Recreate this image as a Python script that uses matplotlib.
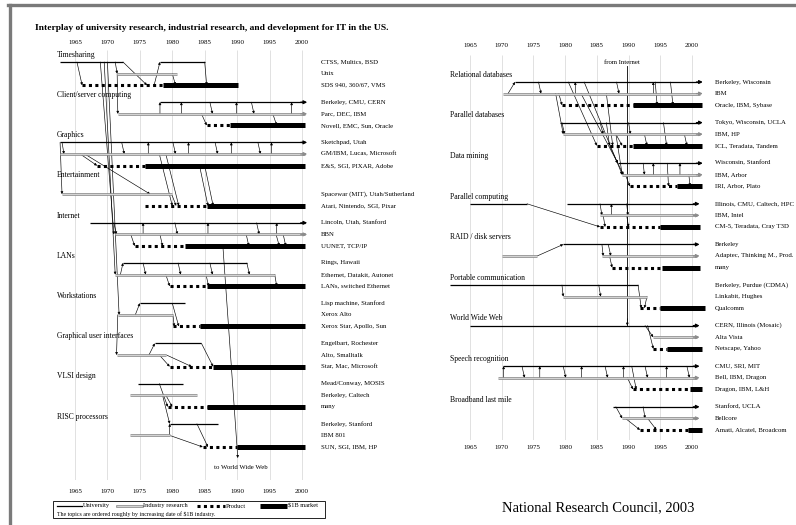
import matplotlib
matplotlib.use("Agg")
import matplotlib.pyplot as plt
from matplotlib.lines import Line2D
from matplotlib.patches import Rectangle

plt.rcParams['font.family'] = ['Liberation Serif', 'DejaVu Serif']

W, H = 796, 525
YEARS = [1965, 1970, 1975, 1980, 1985, 1990, 1995, 2000]

TITLE = "Interplay of university research, industrial research, and development for IT in the US."

# ---------------- left panel data ----------------
LEFT_TOPICS = ["Timesharing", "Client/server computing", "Graphics", "Entertainment",
               "Internet", "LANs", "Workstations", "Graphical user interfaces",
               "VLSI design", "RISC processors"]
LEFT_LABELS = [
    ["CTSS, Multics, BSD", "Unix", "SDS 940, 360/67, VMS"],
    ["Berkeley, CMU, CERN", "Parc, DEC, IBM", "Novell, EMC, Sun, Oracle"],
    ["Sketchpad, Utah", "GM/IBM, Lucas, Microsoft", "E&S, SGI, PIXAR, Adobe"],
    ["", "Spacewar (MIT), Utah/Sutherland", "Atari, Nintendo, SGI, Pixar"],
    ["Lincoln, Utah, Stanford", "BBN", "UUNET, TCP/IP"],
    ["Rings, Hawaii", "Ethernet, Datakit, Autonet", "LANs, switched Ethernet"],
    ["Lisp machine, Stanford", "Xerox Alto", "Xerox Star, Apollo, Sun"],
    ["Engelbart, Rochester", "Alto, Smalltalk", "Star, Mac, Microsoft"],
    ["Mead/Conway, MOSIS", "Berkeley, Caltech", "many"],
    ["Berkeley, Stanford", "IBM 801", "SUN, SGI, IBM, HP"],
]
# university research spans (row 0)
LEFT_UNIV = [
    [(1962.7, 1972.4), (1978.1, 1985.0)],
    [(1978.1, 2000.4)],
    [(1962.7, 2000.4)],
    [],
    [(1967.3, 2000.4)],
    [(1972.4, 1991.5)],
    [(1975.0, 1982.0)],
    [(1977.3, 1984.5)],
    [(1974.7, 1981.6)],
    [(1979.6, 1987.0)],
]
# industry research spans (row 1)
LEFT_IND = [
    [(1971.5, 1980.7)],
    [(1971.6, 2000.4)],
    [(1962.7, 2000.4)],
    [(1963.0, 1979.9)],
    [(1971.2, 2000.4)],
    [(1971.2, 1995.8)],
    [(1971.6, 1980.1)],
    [(1971.4, 1979.1)],
    [(1973.5, 1983.8)],
    [(1973.5, 1979.6)],
]
# product start, $1B market start, end (row 2)
LEFT_PROD = [
    (1966.1, 1978.6, 1990.1),
    (1985.3, 1988.9, 2000.4),
    (1968.4, 1975.8, 2000.4),
    (1975.8, 1985.3, 2000.4),
    (1974.2, 1982.0, 2000.4),
    (1979.6, 1985.3, 2000.4),
    (1980.1, 1984.3, 2000.4),
    (1979.6, 1986.3, 2000.4),
    (1979.3, 1985.3, 2000.4),
    (1984.7, 1990.0, 2000.4),
]
# flows: (topic, row, year) -> (topic, row, year)
LEFT_LINKS = [
    (0, 0, 1965.3, 0, 2, 1966.1), (0, 0, 1971.2, 0, 1, 1971.5),
    (0, 0, 1972.4, 0, 2, 1976.1), (0, 2, 1977.2, 0, 0, 1978.1),
    (0, 1, 1980.0, 0, 2, 1980.5), (0, 0, 1985.0, 0, 2, 1985.3),
    (0, 0, 1968.9, 4, 1, 1971.0), (0, 0, 1970.0, 6, 1, 1971.8),
    (0, 1, 1971.5, 1, 1, 1971.6), (0, 0, 1969.5, 5, 1, 1971.2),
    (1, 1, 1978.1, 1, 0, 1978.1), (1, 1, 1981.4, 1, 0, 1981.4),
    (1, 1, 1989.9, 1, 0, 1989.9), (1, 1, 1998.4, 1, 0, 1998.4),
    (1, 0, 1985.8, 1, 1, 1986.2), (1, 0, 1992.2, 1, 1, 1992.6),
    (1, 1, 1984.5, 1, 2, 1985.3), (1, 1, 1995.5, 1, 2, 1996.1),
    (2, 0, 1963.0, 2, 1, 1963.3), (2, 0, 1972.2, 2, 1, 1972.6),
    (2, 0, 1980.1, 2, 1, 1980.5), (2, 0, 1986.6, 2, 1, 1987.0),
    (2, 0, 1993.2, 2, 1, 1993.6), (2, 1, 1976.3, 2, 0, 1976.3),
    (2, 1, 1982.5, 2, 0, 1982.5), (2, 1, 1989.1, 2, 0, 1989.1),
    (2, 1, 1995.3, 2, 0, 1995.3), (2, 1, 1965.8, 2, 2, 1968.4),
    (2, 0, 1962.7, 3, 1, 1963.0), (2, 1, 1966.5, 3, 1, 1976.6),
    (2, 1, 1978.0, 3, 2, 1980.0), (2, 1, 1979.0, 3, 2, 1981.0),
    (2, 2, 1984.2, 3, 2, 1985.5), (2, 2, 1985.0, 3, 2, 1986.3),
    (3, 1, 1979.9, 3, 2, 1980.6),
    (4, 0, 1971.0, 4, 1, 1971.4), (4, 0, 1980.4, 4, 1, 1980.8),
    (4, 0, 1993.0, 4, 1, 1993.4), (4, 1, 1975.5, 4, 0, 1975.5),
    (4, 1, 1985.5, 4, 0, 1985.5), (4, 1, 1996.1, 4, 0, 1996.1),
    (4, 1, 1973.6, 4, 2, 1974.2), (4, 1, 1978.1, 4, 2, 1978.5),
    (4, 1, 1991.4, 4, 2, 1991.8), (4, 1, 1996.0, 4, 2, 1996.5),
    (4, 1, 1997.1, 4, 2, 1997.5),
    (5, 0, 1975.5, 5, 1, 1975.9), (5, 0, 1980.9, 5, 1, 1981.3),
    (5, 0, 1985.8, 5, 1, 1986.2), (5, 0, 1991.5, 5, 1, 1991.9),
    (5, 1, 1972.0, 5, 0, 1972.4), (5, 1, 1979.0, 5, 2, 1979.6),
    (5, 1, 1985.2, 5, 2, 1985.6), (5, 1, 1995.8, 5, 2, 1996.1),
    (6, 1, 1974.3, 6, 0, 1975.0), (6, 0, 1980.0, 6, 2, 1981.0),
    (6, 1, 1980.1, 6, 2, 1980.3), (6, 1, 1971.6, 7, 1, 1971.4),
    (7, 1, 1976.4, 7, 0, 1977.3), (7, 0, 1984.5, 7, 2, 1986.3),
    (7, 1, 1979.1, 7, 2, 1983.0), (7, 1, 1978.0, 7, 2, 1979.6),
    (8, 0, 1978.0, 8, 2, 1979.3), (8, 1, 1979.0, 8, 2, 1980.0),
    (8, 1, 1978.5, 9, 0, 1979.6),
    (9, 1, 1979.6, 9, 0, 1979.6), (9, 1, 1979.6, 9, 2, 1984.7),
    (9, 0, 1983.8, 9, 2, 1985.5),
]
LEFT_TO_WWW = (4, 2, 1987.8, 1990.1)   # topic, row, start year, end year

# ---------------- right panel data ----------------
RIGHT_TOPICS = ["Relational databases", "Parallel databases", "Data mining",
                "Parallel computing", "RAID / disk servers", "Portable communication",
                "World Wide Web", "Speech recognition", "Broadband last mile"]
RIGHT_LABELS = [
    ["Berkeley, Wisconsin", "IBM", "Oracle, IBM, Sybase"],
    ["Tokyo, Wisconsin, UCLA", "IBM, HP", "ICL, Teradata, Tandem"],
    ["Wisconsin, Stanford", "IBM, Arbor", "IRI, Arbor, Plato"],
    ["Illinois, CMU, Caltech, HPC", "IBM, Intel", "CM-5, Teradata, Cray T3D"],
    ["Berkeley", "Adaptec, Thinking M., Prod.", "many"],
    ["Berkeley, Purdue (CDMA)", "Linkabit, Hughes", "Qualcomm"],
    ["CERN, Illinois (Mosaic)", "Alta Vista", "Netscape, Yahoo"],
    ["CMU, SRI, MIT", "Bell, IBM, Dragon", "Dragon, IBM, L&H"],
    ["Stanford, UCLA", "Bellcore", "Amati, Alcatel, Broadcom"],
]
RIGHT_UNIV = [
    [(1972.1, 2001.3)],
    [(1979.2, 2001.3)],
    [(1988.3, 2001.3)],
    [(1965.0, 1974.0), (1980.3, 2000.8)],
    [(1979.7, 2000.8)],
    [(1961.8, 1991.5)],
    [(1965.0, 2000.8)],
    [(1970.2, 2000.8)],
    [(1987.6, 2000.8)],
]
RIGHT_IND = [
    [(1970.2, 2001.3)],
    [(1979.7, 2001.3)],
    [(1989.0, 2001.3)],
    [(1985.5, 2000.8)],
    [(1970.0, 1975.6), (1985.8, 2000.8)],
    [(1979.7, 1992.9)],
    [(1993.9, 2000.8)],
    [(1969.4, 2000.8)],
    [(1989.0, 2000.8)],
]
RIGHT_PROD = [
    (1979.5, 1990.7, 2001.6),
    (1985.0, 1990.7, 2001.6),
    (1990.2, 1997.6, 2001.6),
    (1985.5, 1995.0, 2001.3),
    (1987.4, 1995.3, 2001.3),
    (1991.8, 1995.0, 2002.0),
    (1993.9, 1996.0, 2001.6),
    (1990.7, 1999.7, 2001.6),
    (1991.8, 1999.4, 2001.6),
]
RIGHT_LINKS = [
    (0, 1, 1971.0, 0, 0, 1972.1), (0, 0, 1975.8, 0, 1, 1976.2),
    (0, 0, 1988.1, 0, 1, 1988.5), (0, 1, 1981.6, 0, 0, 1981.6),
    (0, 1, 1993.9, 0, 0, 1993.9), (0, 1, 1979.0, 0, 2, 1979.5),
    (0, 0, 1994.2, 0, 2, 1994.5), (0, 0, 1996.6, 0, 2, 1997.0),
    (0, 1, 1978.5, 1, 1, 1979.7), (0, 0, 1980.5, 1, 2, 1985.0),
    (0, 1, 1982.5, 2, 0, 1988.3), (0, 0, 1983.0, 2, 1, 1989.0),
    (0, 1, 1986.5, 1, 2, 1987.5),
    (1, 0, 1979.5, 1, 1, 1979.9), (1, 0, 1985.5, 1, 1, 1986.0),
    (1, 0, 1986.5, 1, 2, 1987.0), (1, 1, 1988.0, 1, 2, 1989.0),
    (1, 0, 1990.0, 1, 1, 1990.3), (1, 1, 1992.5, 1, 2, 1992.9),
    (1, 0, 1995.5, 1, 2, 1996.0), (1, 1, 1998.8, 1, 2, 1999.2),
    (1, 2, 1987.0, 2, 0, 1988.3), (1, 1, 1988.0, 2, 1, 1989.0),
    (2, 0, 1988.3, 2, 1, 1989.2), (2, 1, 1989.5, 2, 2, 1990.2),
    (2, 0, 1992.3, 2, 1, 1992.5), (2, 1, 1993.9, 2, 0, 1993.9),
    (2, 0, 1996.1, 2, 2, 1996.3), (2, 1, 1998.1, 2, 0, 1998.1),
    (2, 1, 1999.5, 2, 2, 1999.7),
    (3, 0, 1974.0, 3, 2, 1985.5), (3, 0, 1985.5, 3, 1, 1985.8),
    (3, 1, 1987.3, 3, 0, 1987.3), (3, 0, 1989.7, 3, 1, 1989.9),
    (3, 1, 1986.0, 3, 2, 1986.3), (3, 1, 1989.7, 3, 2, 1990.0),
    (4, 1, 1975.6, 4, 0, 1979.7), (4, 0, 1985.8, 4, 1, 1986.0),
    (4, 0, 1986.8, 4, 1, 1987.2), (4, 1, 1987.0, 4, 2, 1987.4),
    (5, 0, 1979.5, 5, 1, 1979.7), (5, 0, 1985.3, 5, 1, 1985.6),
    (5, 0, 1991.5, 5, 2, 1992.0), (5, 1, 1992.9, 5, 2, 1992.5),
    (6, 0, 1992.6, 6, 1, 1993.9), (6, 0, 1993.0, 6, 2, 1993.9),
    (7, 1, 1970.3, 7, 0, 1970.3), (7, 1, 1976.0, 7, 0, 1976.0),
    (7, 1, 1982.6, 7, 0, 1982.6), (7, 1, 1989.2, 7, 0, 1989.2),
    (7, 1, 1996.0, 7, 0, 1996.0), (7, 0, 1973.2, 7, 1, 1973.6),
    (7, 0, 1979.7, 7, 1, 1980.1), (7, 0, 1986.3, 7, 1, 1986.7),
    (7, 0, 1992.6, 7, 1, 1993.0), (7, 0, 1999.2, 7, 1, 1999.6),
    (7, 1, 1989.8, 7, 2, 1990.7), (7, 0, 1990.5, 7, 2, 1991.2),
    (8, 0, 1988.0, 8, 1, 1989.0), (8, 1, 1989.5, 8, 2, 1991.8),
    (8, 0, 1992.3, 8, 1, 1992.6), (8, 1, 1993.0, 8, 2, 1994.4),
]
RIGHT_FROM_INTERNET = (1989.8, 6)   # year, target topic (row 0)


def fx(px):
    return px / W


def fy(py):
    return 1 - py / H


def make_axes(fig, px1965, px2000, xlim, top_px, bot_px, base_px, row_px):
    ppy = (px2000 - px1965) / 35.0
    left = px1965 + (xlim[0] - 1965) * ppy
    right = px1965 + (xlim[1] - 1965) * ppy
    ax = fig.add_axes([fx(left), fy(bot_px), (right - left) / W, (bot_px - top_px) / H])
    ax.set_xlim(*xlim)
    ax.set_ylim((bot_px - base_px) / row_px, (top_px - base_px) / row_px)
    ax.axis('off')
    return ax


def seg_univ(ax, s, e, y):
    ax.plot([s, e], [y, y], color='black', lw=0.9, solid_capstyle='butt', zorder=4)
    if e >= 2000:
        ax.annotate('', xy=(e + 0.4, y), xytext=(e - 0.6, y),
                    arrowprops=dict(arrowstyle='-|>', color='black', lw=0.9,
                                    mutation_scale=5, shrinkA=0, shrinkB=0), zorder=5)


def seg_ind(ax, s, e, y):
    ax.plot([s, e], [y, y], color='#8c8c8c', lw=1.9, solid_capstyle='butt', zorder=4)
    ax.plot([s, e], [y, y], color='white', lw=0.45, solid_capstyle='butt', zorder=4)
    if e >= 2000:
        ax.annotate('', xy=(e + 0.4, y), xytext=(e - 0.6, y),
                    arrowprops=dict(arrowstyle='-|>', color='#8c8c8c', lw=0.9,
                                    mutation_scale=5, shrinkA=0, shrinkB=0), zorder=5)


def seg_prod(ax, p, m, e, y):
    ax.plot([p, m], [y, y], color='black', lw=2.2, linestyle=(0, (1, 1.1)),
            dash_capstyle='butt', zorder=4)
    ax.plot([m, e], [y, y], color='black', lw=3.6, solid_capstyle='butt', zorder=4)


def link(ax, x1, y1, x2, y2):
    ax.annotate('', xy=(x2, y2), xytext=(x1, y1),
                arrowprops=dict(arrowstyle='-|>', color='black', lw=0.45,
                                mutation_scale=3.5, shrinkA=0, shrinkB=0), zorder=3)


def draw_panel(ax, topics, labels, univ, ind, prod, links, gap, head_x, lab_x,
               tick_top, tick_bot):
    y0, y1 = ax.get_ylim()
    ax.vlines(YEARS, y1, y0, color='#d4d4d4', lw=0.5, zorder=1)
    for yr in YEARS:
        ax.text(yr, tick_top, str(yr), fontsize=5, ha='center', va='center', clip_on=False)
        ax.text(yr, tick_bot, str(yr), fontsize=5, ha='center', va='center', clip_on=False)

    def ry(k, r):
        return k * gap + r

    for k, topic in enumerate(topics):
        ax.text(head_x, ry(k, 0) - 0.62, topic, fontsize=5.5, ha='left', va='center', zorder=6)
        for r, lab in enumerate(labels[k]):
            ax.text(lab_x, ry(k, r), lab, fontsize=4.9, ha='left', va='center', clip_on=False)
        for s, e in univ[k]:
            seg_univ(ax, s, e, ry(k, 0))
        for s, e in ind[k]:
            seg_ind(ax, s, e, ry(k, 1))
        p, m, e = prod[k]
        seg_prod(ax, p, m, e, ry(k, 2))
    for k1, r1, x1, k2, r2, x2 in links:
        link(ax, x1, ry(k1, r1), x2, ry(k2, r2))
    return ry


fig = plt.figure(figsize=(W / 100, H / 100), dpi=100, facecolor='white')

# page frame (scan border)
fig.add_artist(Line2D([fx(8), fx(W)], [fy(5), fy(5)], transform=fig.transFigure,
                      color='#7a7a7a', lw=2.4))
fig.add_artist(Line2D([fx(9.5), fx(9.5)], [fy(5), fy(H)], transform=fig.transFigure,
                      color='#7a7a7a', lw=2.4))

fig.text(fx(35), fy(28), TITLE, fontsize=6.8, fontweight='bold', ha='left', va='center')

# left panel
L_BASE, L_ROW = 62.0, 11.6
axL = make_axes(fig, 75, 302, (1960, 2004), 50, 480, L_BASE, L_ROW)
ryL = draw_panel(axL, LEFT_TOPICS, LEFT_LABELS, LEFT_UNIV, LEFT_IND, LEFT_PROD, LEFT_LINKS,
                 40.2 / L_ROW, 1962.2, 2002.9,
                 (43 - L_BASE) / L_ROW, (492 - L_BASE) / L_ROW)
k, r, ys, ye = LEFT_TO_WWW
y_end = (458 - L_BASE) / L_ROW
link(axL, ys, ryL(k, r), ye, y_end)
axL.text(ye + 0.5, (468 - L_BASE) / L_ROW, "to World Wide Web", fontsize=4.9,
         ha='center', va='center')

# right panel
R_BASE, R_ROW = 82.0, 11.55
axR = make_axes(fig, 470, 692, (1960, 2006), 55, 440, R_BASE, R_ROW)
ryR = draw_panel(axR, RIGHT_TOPICS, RIGHT_LABELS, RIGHT_UNIV, RIGHT_IND, RIGHT_PROD,
                 RIGHT_LINKS, 40.6 / R_ROW, 1961.8, 2003.6,
                 (45 - R_BASE) / R_ROW, (448 - R_BASE) / R_ROW)
yr_net, k_www = RIGHT_FROM_INTERNET
axR.plot([yr_net, yr_net], [(66 - R_BASE) / R_ROW, ryR(k_www, 0)], color='black',
         lw=0.6, zorder=3)
link(axR, yr_net, ryR(k_www, 0) - 0.6, yr_net, ryR(k_www, 0))
axR.text(yr_net - 0.8, (62 - R_BASE) / R_ROW, "from Internet", fontsize=4.9,
         ha='center', va='center')

# legend box
fig.add_artist(Rectangle((fx(53), fy(518)), (325 - 53) / W, (518 - 500.7) / H,
                         transform=fig.transFigure, fill=False, lw=0.6, ec='black'))
ly = fy(506)
fig.add_artist(Line2D([fx(57), fx(82)], [ly, ly], transform=fig.transFigure,
                      color='black', lw=0.9))
fig.text(fx(83), ly, "University", fontsize=4.6, va='center')
fig.add_artist(Line2D([fx(117), fx(142)], [ly, ly], transform=fig.transFigure,
                      color='#8c8c8c', lw=1.9))
fig.add_artist(Line2D([fx(117), fx(142)], [ly, ly], transform=fig.transFigure,
                      color='white', lw=0.45))
fig.text(fx(143), ly, "Industry research", fontsize=4.6, va='center')
fig.add_artist(Line2D([fx(197), fx(225)], [ly, ly], transform=fig.transFigure,
                      color='black', lw=2.2, linestyle=(0, (1, 1.1)), dash_capstyle='butt'))
fig.text(fx(226), ly, "Product", fontsize=4.6, va='center')
fig.add_artist(Line2D([fx(260), fx(287)], [ly, ly], transform=fig.transFigure,
                      color='black', lw=3.6, solid_capstyle='butt'))
fig.text(fx(288), ly, r"\$1B market", fontsize=4.6, va='center')
fig.text(fx(57), fy(514), r"The topics are ordered roughly by increasing date of \$1B industry.",
         fontsize=4.2, va='center')

fig.text(fx(598), fy(508), "National Research Council, 2003", fontsize=10.5,
         ha='center', va='center')

fig.savefig("out.png", dpi=100, facecolor='white')
